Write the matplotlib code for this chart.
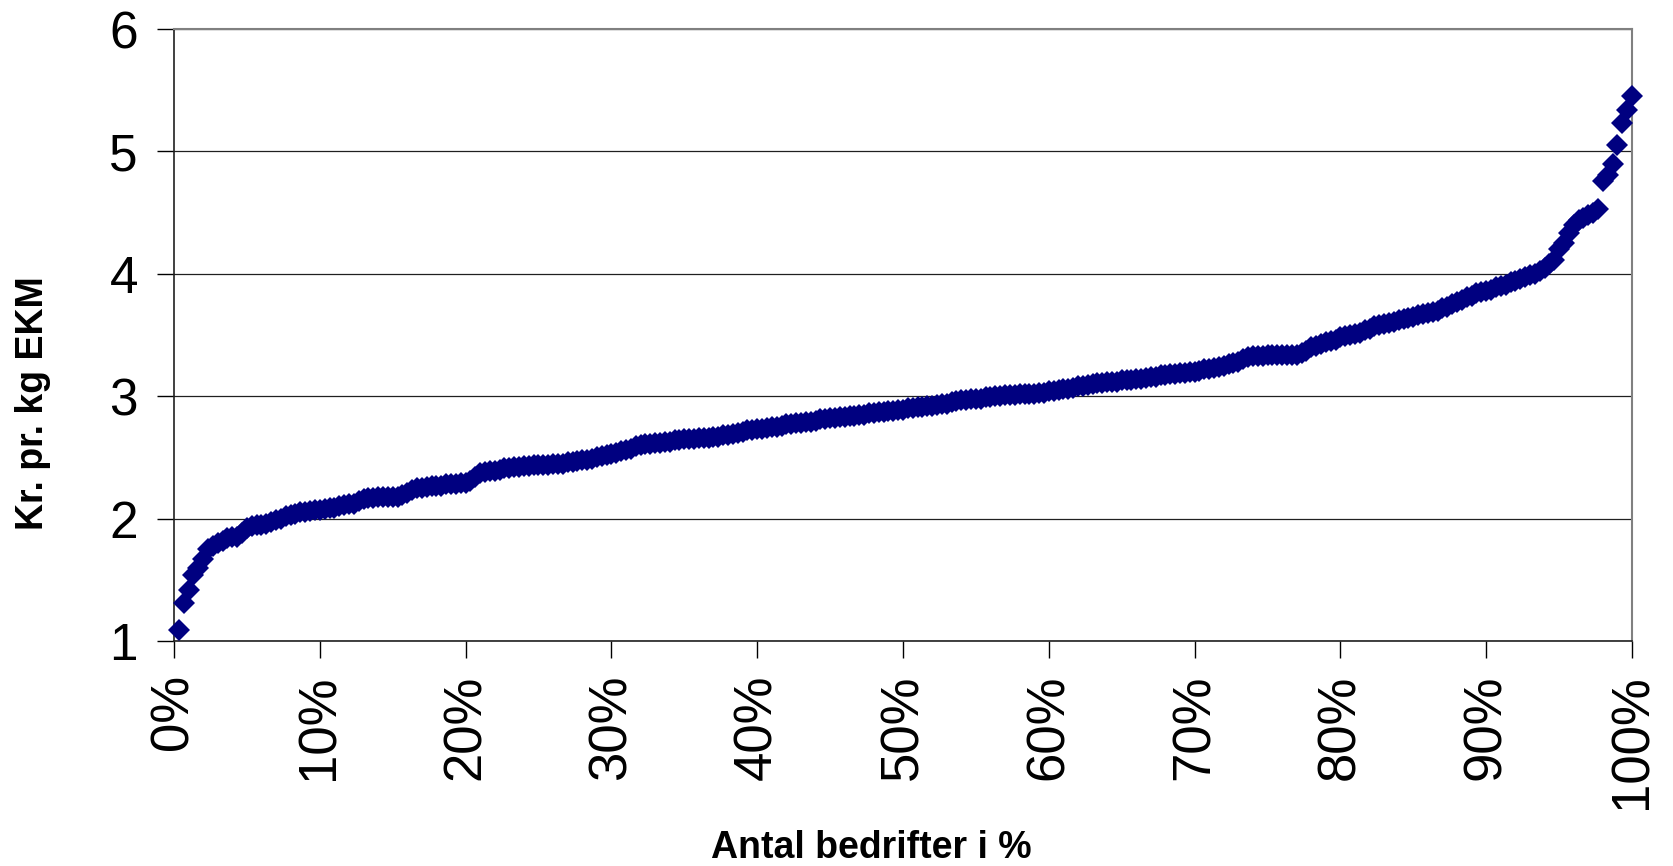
import matplotlib.pyplot as plt
from matplotlib.ticker import PercentFormatter

plt.rcParams['font.family'] = ['Liberation Sans', 'DejaVu Sans']

# Kr. pr. kg EKM per bedrift, sorteret stigende (300 bedrifter, 15 pr. 5 %)
kr_pr_kg = [
    1.09, 1.31, 1.42, 1.54, 1.60, 1.67, 1.75, 1.78, 1.80, 1.82, 1.84, 1.85, 1.85, 1.88, 1.92,
    1.94, 1.95, 1.95, 1.96, 1.97, 1.99, 2.00, 2.02, 2.03, 2.04, 2.05, 2.05, 2.06, 2.07, 2.07,
    2.08, 2.09, 2.09, 2.10, 2.11, 2.12, 2.12, 2.14, 2.16, 2.17, 2.17, 2.18, 2.18, 2.18, 2.18,
    2.18, 2.19, 2.21, 2.23, 2.25, 2.25, 2.26, 2.27, 2.27, 2.27, 2.28, 2.28, 2.28, 2.29, 2.29,
    2.31, 2.34, 2.37, 2.38, 2.39, 2.39, 2.40, 2.41, 2.41, 2.42, 2.42, 2.43, 2.43, 2.44, 2.44,
    2.44, 2.44, 2.45, 2.45, 2.45, 2.46, 2.46, 2.47, 2.48, 2.48, 2.49, 2.50, 2.51, 2.52, 2.53,
    2.54, 2.55, 2.56, 2.57, 2.59, 2.60, 2.61, 2.61, 2.62, 2.62, 2.63, 2.63, 2.64, 2.64, 2.65,
    2.65, 2.65, 2.66, 2.66, 2.66, 2.67, 2.67, 2.68, 2.68, 2.69, 2.70, 2.71, 2.72, 2.72, 2.73,
    2.73, 2.74, 2.75, 2.75, 2.76, 2.77, 2.77, 2.78, 2.78, 2.79, 2.79, 2.80, 2.81, 2.81, 2.82,
    2.82, 2.83, 2.83, 2.84, 2.84, 2.85, 2.85, 2.86, 2.86, 2.87, 2.87, 2.88, 2.88, 2.89, 2.89,
    2.90, 2.90, 2.91, 2.91, 2.92, 2.92, 2.93, 2.94, 2.94, 2.95, 2.96, 2.97, 2.97, 2.98, 2.98,
    2.98, 2.99, 2.99, 3.00, 3.00, 3.01, 3.01, 3.01, 3.02, 3.02, 3.02, 3.02, 3.03, 3.03, 3.04,
    3.04, 3.05, 3.06, 3.06, 3.07, 3.08, 3.08, 3.09, 3.10, 3.11, 3.11, 3.12, 3.12, 3.12, 3.13,
    3.13, 3.13, 3.14, 3.14, 3.15, 3.16, 3.16, 3.17, 3.17, 3.18, 3.18, 3.19, 3.19, 3.20, 3.20,
    3.21, 3.22, 3.22, 3.23, 3.24, 3.25, 3.26, 3.27, 3.28, 3.30, 3.32, 3.33, 3.33, 3.33, 3.34,
    3.34, 3.34, 3.34, 3.34, 3.34, 3.34, 3.35, 3.37, 3.40, 3.41, 3.43, 3.44, 3.45, 3.46, 3.48,
    3.49, 3.50, 3.51, 3.52, 3.54, 3.55, 3.57, 3.58, 3.59, 3.60, 3.61, 3.62, 3.63, 3.64, 3.65,
    3.66, 3.67, 3.68, 3.69, 3.70, 3.72, 3.73, 3.75, 3.77, 3.79, 3.81, 3.82, 3.84, 3.85, 3.86,
    3.87, 3.89, 3.90, 3.91, 3.93, 3.94, 3.96, 3.97, 3.99, 4.00, 4.02, 4.05, 4.08, 4.11, 4.20,
    4.25, 4.33, 4.40, 4.44, 4.46, 4.48, 4.50, 4.53, 4.76, 4.81, 4.90, 5.05, 5.23, 5.34, 5.45,
]
n = len(kr_pr_kg)
andel = [(i + 1) / n for i in range(n)]  # andel af bedrifter

x_ticks = [i / 10 for i in range(11)]
y_ticks = [1, 2, 3, 4, 5, 6]

fig = plt.figure(figsize=(16.73, 8.66), dpi=100)
ax = fig.add_axes([0.104, 0.2598, 0.8715, 0.7067])

ax.plot(andel, kr_pr_kg, linestyle='none', marker='D', markersize=11,
        color='#000080', markeredgewidth=0, clip_on=False, zorder=3)

ax.set_xlim(0, 1)
ax.set_ylim(1, 6)
ax.set_xticks(x_ticks)
ax.set_yticks(y_ticks)
ax.xaxis.set_major_formatter(PercentFormatter(1.0, decimals=0))
ax.grid(axis='y', color='#202020', linewidth=0.9)
ax.set_axisbelow(True)

for side in ['top', 'right']:
    ax.spines[side].set_color('#808080')
    ax.spines[side].set_linewidth(1.5)
for side in ['left', 'bottom']:
    ax.spines[side].set_color('#202020')
    ax.spines[side].set_linewidth(1.2)

ax.tick_params(axis='y', direction='out', length=12, width=1, pad=14, labelsize=37)
ax.tick_params(axis='x', direction='out', length=12, width=1, pad=12, labelsize=38,
               labelrotation=90)

ax.set_ylabel('Kr. pr. kg EKM', fontsize=27, fontweight='bold', va='center')
ax.yaxis.set_label_coords(-0.097, 0.389)
ax.set_xlabel('Antal bedrifter i %', fontsize=27, fontweight='bold', va='center')
ax.xaxis.set_label_coords(0.478, -0.338)

fig.savefig('out.png', dpi=100, facecolor='white')
